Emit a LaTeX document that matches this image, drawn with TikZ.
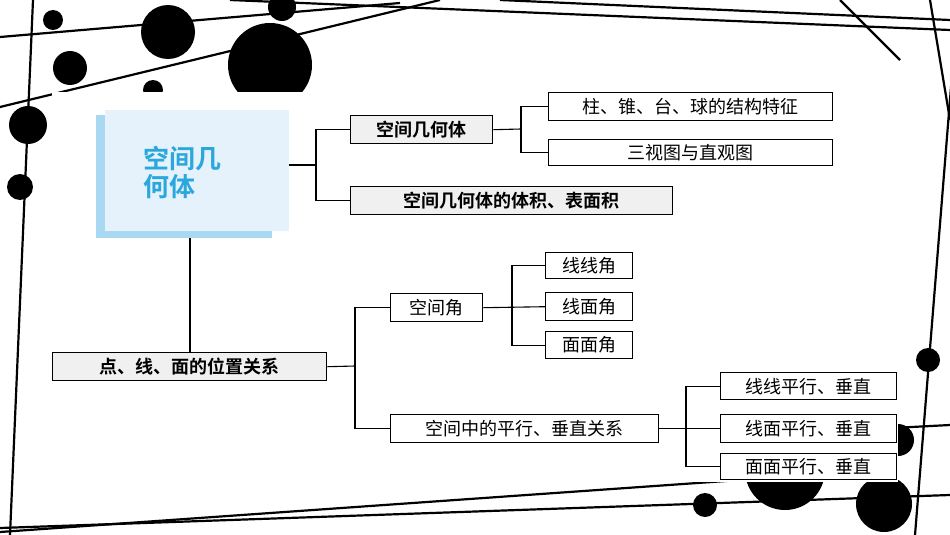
\documentclass[tikz,border=0pt]{standalone}
\usepackage{fontspec}
\newfontfamily\cjk{Noto Sans CJK SC}
\newfontfamily\cjkb{Noto Sans CJK SC Bold}
\definecolor{shadowblue}{HTML}{A9D8F3}
\definecolor{paleblue}{HTML}{E6F2FB}
\definecolor{titleblue}{HTML}{2AA7DD}
\begin{document}
\begin{tikzpicture}[x=1pt,y=-1pt,
  bx/.style={draw=black,line width=1.4pt,anchor=north west,inner sep=0pt,font=\cjk\fontsize{18}{20}\selectfont},
  bbx/.style={bx,fill=gray!12,font=\cjkb\fontsize{18}{20}\selectfont},
  ln/.style={line width=1.1pt},
  deco/.style={line width=2.2pt}]
\useasboundingbox (0,0) rectangle (950,535);
\fill[white] (0,0) rectangle (950,535);
% decoration
\draw[deco] (33,0) -- (10,535);
\draw[deco] (0,37) -- (400,3);
\draw[deco] (0,107) -- (440,0);
\draw[deco] (230,0) -- (950,30);
\draw[deco] (500,0) -- (950,20);
\draw[deco] (930,0) -- (950,120);
\draw[deco] (840,0) -- (900,60);
\draw[deco] (958,0) -- (915,535);
\draw[deco] (0,528) -- (950,495);
\draw[deco] (0,532) -- (740,480);
\draw[deco] (700,438) -- (950,425);
\fill (53,20) circle (10);
\fill (168,32) circle (27);
\fill (270,65) circle (42);
\fill (282,7) circle (14);
\fill (70,68) circle (17);
\fill (28,125) circle (19);
\fill (20,187) circle (13);
\fill (153,90) circle (10);
\fill (928,360) circle (12);
\fill (898,440) circle (16);
\fill (884,504) circle (28);
\fill (705,505) circle (12);
\fill (785,470) circle (40);
% panel
\fill[white] (52,92) rectangle (898,482);
% main box
\fill[shadowblue] (96,115) rectangle (272,238);
\fill[paleblue] (105,110) rectangle (289,231);
\node[anchor=west,align=left,text=titleblue,font=\cjkb\fontsize{26}{28}\selectfont,inner sep=0pt] (main) at (143,173) {空间几\\何体};
\coordinate (mr) at (289,165);
\coordinate (mb) at (190,238);
% boxes
\node[bbx,minimum width=142,minimum height=28] (a) at (350,115) {空间几何体};
\node[bbx,minimum width=322,minimum height=28] (b) at (350,186) {空间几何体的体积、表面积};
\node[bx,minimum width=284,minimum height=28] (a1) at (548,92) {柱、锥、台、球的结构特征};
\node[bx,minimum width=284,minimum height=26] (a2) at (548,139) {三视图与直观图};
\node[bbx,minimum width=274,minimum height=28] (p) at (52,352) {点、线、面的位置关系};
\node[bx,minimum width=92,minimum height=28] (k) at (390,293) {空间角};
\node[bx,minimum width=268,minimum height=28] (s) at (390,414) {空间中的平行、垂直关系};
\node[bx,minimum width=87,minimum height=26] (k1) at (545,252) {线线角};
\node[bx,minimum width=87,minimum height=28] (k2) at (545,292) {线面角};
\node[bx,minimum width=87,minimum height=27] (k3) at (545,331) {面面角};
\node[bx,minimum width=176,minimum height=27] (s1) at (720,372) {线线平行、垂直};
\node[bx,minimum width=176,minimum height=28] (s2) at (720,414) {线面平行、垂直};
\node[bx,minimum width=176,minimum height=26] (s3) at (720,453) {面面平行、垂直};
% connectors
\draw[ln] (mr) -- (316,165);
\draw[ln] (a.west) -| (316,165) |- (b.west);
\draw[ln] (a.east) -- (521,129);
\draw[ln] (a1.west) -| (521,129) |- (a2.west);
\draw[ln] (mb) -- (p.north -| mb);
\draw[ln] (p.east) -- (355,366);
\draw[ln] (k.west) -| (355,366) |- (s.west);
\draw[ln] (k.east) -- (k2.west);
\draw[ln] (k1.west) -| (512,306) |- (k3.west);
\draw[ln] (s.east) -- (s2.west);
\draw[ln] (s1.west) -| (686,428) |- (s3.west);
\end{tikzpicture}
\end{document}
